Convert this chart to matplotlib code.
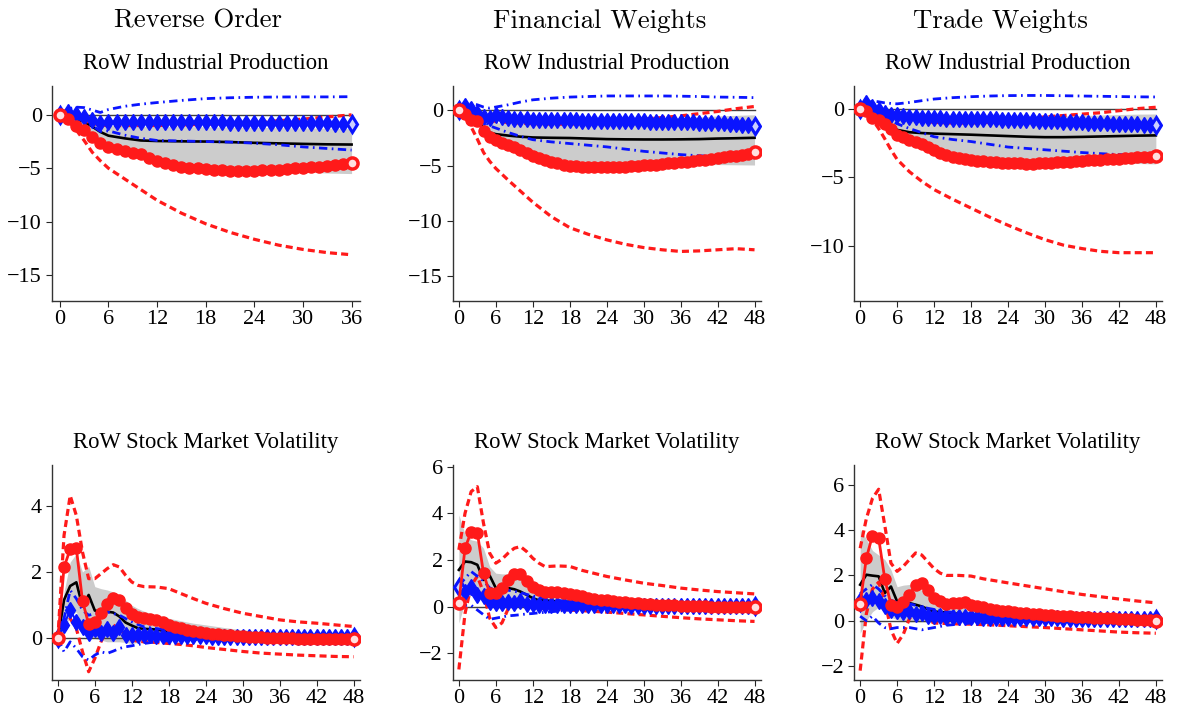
import numpy as np
import matplotlib
matplotlib.use("Agg")
import matplotlib.pyplot as plt

plt.rcParams['font.family'] = ['Liberation Serif', 'DejaVu Serif']

# ---- labels ----
col_titles = ["Reverse Order", "Financial Weights", "Trade Weights"]
row_titles = ["RoW Industrial Production", "RoW Stock Market Volatility"]

# ---- horizons ----
h36 = [0, 1, 2, 3, 4, 5, 6, 8, 10, 12, 15, 18, 21, 24, 27, 30, 33, 36]
h48 = [0, 1, 2, 3, 4, 5, 6, 8, 10, 12, 15, 18, 21, 24, 27, 30, 33, 36, 39, 42, 45, 48]
hvol = [0, 1, 2, 3, 4, 5, 6, 7, 8, 9, 10, 11, 12, 13, 14, 16, 18, 20, 22, 24, 27, 30, 33, 36, 39, 42, 45, 48]

# ================= Reverse Order: industrial production =================
ro_ip_med = [0, -0.1, -0.4, -0.65, -1.1, -1.6, -1.95, -2.2, -2.4, -2.45, -2.48, -2.5, -2.55, -2.62, -2.67, -2.72, -2.76, -2.78]
ro_ip_hi = [0, -0.05, -0.2, -0.45, -0.8, -0.95, -1.0, -1.05, -1.1, -1.1, -1.1, -1.12, -1.15, -1.18, -1.2, -1.22, -1.25, -1.3]
ro_ip_lo = [0, -0.2, -0.6, -1.1, -1.8, -2.3, -2.8, -3.4, -3.9, -4.3, -4.55, -4.75, -4.95, -5.1, -5.25, -5.35, -5.45, -5.5]
ro_ip_red = [0, -0.4, -1.0, -1.4, -2.1, -2.6, -3.0, -3.2, -3.4, -3.55,
             -3.7, -4.05, -4.3, -4.5, -4.7, -4.85, -4.95, -5.0, -5.1, -5.15,
             -5.2, -5.22, -5.25, -5.25, -5.22, -5.2, -5.15, -5.12, -5.08, -5.02,
             -4.97, -4.9, -4.85, -4.78, -4.7, -4.6, -4.5]
ro_ip_red_hi = [0, -0.1, -0.3, -0.55, -0.8, -0.95, -1.0, -1.0, -1.0, -1.0, -0.95, -0.9, -0.8, -0.7, -0.55, -0.4, -0.2, 0.0]
ro_ip_red_lo = [0, -0.5, -1.4, -2.4, -3.5, -4.3, -5.0, -6.0, -7.0, -8.0, -9.2, -10.2, -11.0, -11.65, -12.2, -12.6, -12.9, -13.1]
ro_ip_blue = [0, 0.3, 0.1, -0.2, -0.5, -0.8, -0.7, -0.65, -0.65, -0.65,
              -0.65, -0.65, -0.65, -0.66, -0.67, -0.68, -0.68, -0.69, -0.7, -0.7,
              -0.71, -0.72, -0.72, -0.73, -0.74, -0.74, -0.75, -0.76, -0.77, -0.77,
              -0.78, -0.79, -0.8, -0.81, -0.82, -0.83, -0.85]
ro_ip_blue_hi = [0, 0.55, 0.72, 0.68, 0.45, 0.22, 0.5, 0.8, 1.0, 1.15, 1.35, 1.52, 1.6, 1.65, 1.67, 1.68, 1.68, 1.7]
ro_ip_blue_lo = [0, -0.05, -0.3, -0.6, -1.0, -1.55, -1.5, -1.9, -2.2, -2.4, -2.45, -2.5, -2.55, -2.65, -2.8, -3.0, -3.15, -3.3]

# ================= Financial Weights: industrial production =================
fw_ip_med = [0, -0.05, -0.1, -0.6, -1.65, -2.0, -2.15, -2.28, -2.38, -2.45, -2.48, -2.5, -2.55, -2.6, -2.62, -2.63, -2.63, -2.62, -2.6, -2.55, -2.52, -2.48]
fw_ip_hi = [0, -0.05, -0.15, -0.35, -0.7, -0.95, -1.1, -1.2, -1.2, -1.2, -1.15, -1.1, -1.05, -1.0, -0.9, -0.85, -0.8, -0.7, -0.6, -0.5, -0.45, -0.4]
fw_ip_lo = [0, -0.1, -0.3, -0.9, -2.0, -2.5, -2.8, -3.3, -3.7, -4.0, -4.3, -4.5, -4.65, -4.8, -4.85, -4.9, -4.9, -4.9, -4.9, -4.9, -4.92, -4.94]
fw_ip_red = [0, -0.3, -0.85, -1.0, -1.85, -2.4, -2.7, -2.95, -3.1, -3.3,
             -3.55, -3.85, -4.1, -4.3, -4.5, -4.65, -4.8, -4.9, -5.0, -5.05,
             -5.1, -5.15, -5.15, -5.15, -5.15, -5.15, -5.12, -5.1, -5.05, -5.0,
             -4.95, -4.92, -4.9, -4.85, -4.8, -4.75, -4.7, -4.65, -4.58, -4.5,
             -4.45, -4.38, -4.3, -4.22, -4.15, -4.08, -4.0, -3.9, -3.8]
fw_ip_red_hi = [0, -0.1, -0.3, -0.5, -0.75, -0.9, -1.0, -1.1, -1.15, -1.2, -1.25, -1.25, -1.15, -1.0, -0.9, -0.8, -0.65, -0.5, -0.3, -0.1, 0.15, 0.35]
fw_ip_red_lo = [0, -0.6, -1.5, -2.6, -3.8, -4.6, -5.25, -6.3, -7.3, -8.3, -9.6, -10.6, -11.2, -11.7, -12.1, -12.4, -12.6, -12.75, -12.7, -12.6, -12.5, -12.6]
fw_ip_blue = [0, 0.35, 0.1, -0.2, -0.6, -0.66, -0.45, -0.6, -0.7, -0.75,
              -0.8, -0.82, -0.84, -0.85, -0.86, -0.87, -0.88, -0.89, -0.9, -0.91,
              -0.92, -0.93, -0.94, -0.95, -0.96, -0.97, -0.97, -0.98, -0.99, -0.99,
              -1.0, -1.01, -1.02, -1.03, -1.04, -1.05, -1.06, -1.07, -1.08, -1.1,
              -1.12, -1.13, -1.15, -1.18, -1.21, -1.24, -1.28, -1.33, -1.38]
fw_ip_blue_hi = [0, 0.4, 0.6, 0.5, 0.3, 0.2, 0.3, 0.5, 0.75, 0.95, 1.1, 1.2, 1.25, 1.3, 1.3, 1.3, 1.3, 1.28, 1.25, 1.2, 1.18, 1.15]
fw_ip_blue_lo = [0, -0.05, -0.2, -0.5, -0.9, -1.4, -1.6, -2.0, -2.35, -2.65, -2.85, -3.0, -3.15, -3.3, -3.5, -3.7, -3.85, -4.0, -4.1, -4.2, -4.25, -4.3]

# ================= Trade Weights: industrial production =================
tw_ip_med = [0, -0.02, -0.1, -0.35, -0.75, -1.2, -1.55, -1.72, -1.78, -1.82, -1.86, -1.9, -1.95, -2.0, -2.05, -2.08, -2.08, -2.06, -2.03, -2.0, -1.97, -1.95]
tw_ip_hi = [0, -0.02, -0.1, -0.25, -0.45, -0.6, -0.7, -0.75, -0.8, -0.8, -0.78, -0.75, -0.72, -0.7, -0.65, -0.6, -0.55, -0.5, -0.47, -0.43, -0.4, -0.39]
tw_ip_lo = [0, -0.1, -0.3, -0.7, -1.2, -1.6, -2.0, -2.4, -2.7, -2.9, -3.2, -3.45, -3.65, -3.8, -3.85, -3.9, -3.92, -3.95, -3.97, -4.0, -4.0, -4.03]
tw_ip_red = [0, -0.2, -0.7, -0.8, -1.15, -1.5, -1.9, -2.1, -2.25, -2.4,
             -2.6, -2.8, -3.0, -3.2, -3.35, -3.5, -3.6, -3.68, -3.75, -3.8,
             -3.85, -3.88, -3.9, -3.93, -3.95, -3.97, -3.98, -4.0, -4.0, -3.98,
             -3.96, -3.94, -3.92, -3.9, -3.87, -3.84, -3.8, -3.77, -3.74, -3.71,
             -3.68, -3.66, -3.64, -3.61, -3.58, -3.55, -3.52, -3.49, -3.46]
tw_ip_red_hi = [0, -0.1, -0.25, -0.4, -0.5, -0.55, -0.6, -0.75, -0.9, -1.0, -1.05, -1.05, -1.0, -0.9, -0.75, -0.6, -0.5, -0.4, -0.3, -0.15, 0.0, 0.1]
tw_ip_red_lo = [0, -0.3, -0.8, -1.45, -2.2, -3.0, -3.7, -4.6, -5.3, -5.9, -6.6, -7.25, -7.9, -8.5, -9.05, -9.55, -9.95, -10.2, -10.4, -10.5, -10.5, -10.5]
tw_ip_blue = [0, 0.4, 0.1, -0.1, -0.3, -0.45, -0.5, -0.55, -0.6, -0.63,
              -0.66, -0.68, -0.7, -0.71, -0.72, -0.73, -0.74, -0.74, -0.75, -0.76,
              -0.77, -0.78, -0.79, -0.8, -0.8, -0.81, -0.82, -0.84, -0.86, -0.88,
              -0.9, -0.91, -0.93, -0.95, -0.97, -0.99, -1.0, -1.02, -1.04, -1.06,
              -1.08, -1.09, -1.1, -1.12, -1.13, -1.15, -1.16, -1.17, -1.18]
tw_ip_blue_hi = [0, 0.4, 0.55, 0.5, 0.42, 0.38, 0.35, 0.45, 0.58, 0.7, 0.8, 0.87, 0.92, 0.95, 0.96, 0.96, 0.94, 0.92, 0.9, 0.88, 0.86, 0.85]
tw_ip_blue_lo = [0, -0.05, -0.15, -0.4, -0.65, -0.9, -1.1, -1.45, -1.75, -2.05, -2.25, -2.4, -2.6, -2.8, -2.9, -3.0, -3.1, -3.2, -3.28, -3.35, -3.38, -3.4]

# ================= Reverse Order: stock market volatility =================
ro_vol_med = [0, 1.16, 1.58, 1.69, 0.96, 1.31, 0.84, 0.81, 0.81, 0.78, 0.66, 0.48, 0.39, 0.31, 0.29, 0.27, 0.2, 0.13, 0.09, 0.06, 0.04, 0.02, 0.01, 0.01, 0.0, 0.0, 0.0, 0.0]
ro_vol_hi = [0, 1.4, 2.3, 2.55, 2.0, 2.17, 1.56, 1.5, 1.46, 1.4, 1.3, 1.15, 1.0, 0.9, 0.82, 0.7, 0.61, 0.53, 0.46, 0.41, 0.33, 0.26, 0.21, 0.18, 0.15, 0.12, 0.1, 0.08]
ro_vol_lo = [0, 0.2, 0.7, 0.8, 0.3, 0.1, 0.0, -0.05, -0.1, -0.1, -0.1, -0.12, -0.15, -0.12, -0.1, -0.08, -0.05, -0.04, -0.03, -0.02, -0.01, 0, 0, 0, 0, 0, 0, 0]
ro_vol_red = [0, 2.14, 2.69, 2.72, 1.13, 0.43, 0.51, 0.78, 1.03, 1.23,
              1.16, 0.91, 0.74, 0.66, 0.63, 0.6, 0.57, 0.5, 0.41, 0.36,
              0.31, 0.27, 0.23, 0.2, 0.18, 0.15, 0.13, 0.1, 0.09, 0.07,
              0.06, 0.05, 0.04, 0.03, 0.02, 0.02, 0.01, 0.0, 0.0, -0.01,
              -0.01, -0.01, -0.02, -0.02, -0.02, -0.02, -0.03, -0.03, -0.03]
ro_vol_red_hi = [0, 3.1, 4.3, 3.7, 2.6, 1.8, 1.8, 1.95, 2.1, 2.22, 2.15, 1.9, 1.7, 1.6, 1.56, 1.55, 1.5, 1.35, 1.2, 1.06, 0.9, 0.76, 0.66, 0.56, 0.5, 0.46, 0.41, 0.36]
ro_vol_red_lo = [0, 0.3, 0.6, 0.3, -0.4, -1.0, -0.6, -0.1, 0.3, 0.4, 0.3, 0.1, -0.05, -0.08, -0.1, -0.12, -0.15, -0.18, -0.22, -0.27, -0.33, -0.39, -0.44, -0.47, -0.5, -0.52, -0.54, -0.55]
ro_vol_blue = [0, 0.41, 0.86, 0.51, 0.36, 0.16, 0.28, 0.18, 0.28, 0.18,
               0.34, 0.12, 0.1, 0.1, 0.09, 0.09, 0.08, 0.08, 0.07, 0.07,
               0.07, 0.06, 0.06, 0.06, 0.06, 0.05, 0.05, 0.05, 0.05, 0.05,
               0.05, 0.04, 0.04, 0.04, 0.04, 0.04, 0.04, 0.04, 0.04, 0.04,
               0.03, 0.03, 0.03, 0.03, 0.03, 0.03, 0.03, 0.03, 0.03]
ro_vol_blue_hi = [0, 0.6, 1.45, 1.2, 0.85, 0.7, 0.75, 0.78, 0.8, 0.75, 0.7, 0.6, 0.5, 0.42, 0.35, 0.3, 0.25, 0.2, 0.16, 0.12, 0.09, 0.06, 0.05, 0.04, 0.03, 0.03, 0.03, 0.03]
ro_vol_blue_lo = [0, -0.4, -0.1, -0.3, -0.55, -0.65, -0.5, -0.4, -0.45, -0.38, -0.3, -0.25, -0.22, -0.18, -0.15, -0.1, -0.06, -0.04, -0.03, -0.02, -0.01, -0.01, 0, 0, 0, 0, 0, 0]

# ================= Financial Weights: stock market volatility =================
fw_vol_med = [1.57, 1.93, 1.9, 1.79, 1.14, 1.33, 0.79, 0.79, 0.79, 0.74, 0.64, 0.5, 0.36, 0.26, 0.26, 0.22, 0.2, 0.15, 0.11, 0.08, 0.05, 0.03, 0.02, 0.01, 0.01, 0.0, 0.0, 0.0]
fw_vol_hi = [3.93, 3.1, 2.86, 2.8, 2.5, 1.71, 1.43, 1.4, 1.4, 1.3, 1.2, 1.08, 0.95, 0.87, 0.8, 0.7, 0.6, 0.52, 0.45, 0.4, 0.32, 0.25, 0.2, 0.15, 0.13, 0.12, 0.11, 0.1]
fw_vol_lo = [-0.71, 0.2, 0.5, 0.7, 0.4, 0.25, 0.1, 0.05, 0.0, -0.03, -0.05, -0.05, -0.05, -0.05, -0.04, -0.04, -0.03, -0.03, -0.02, -0.02, -0.01, -0.01, 0, 0, 0, 0, 0, 0]
fw_vol_red = [0.17, 2.5, 3.21, 3.17, 1.43, 0.57, 0.57, 0.79, 1.14, 1.4,
              1.4, 1.1, 0.83, 0.69, 0.61, 0.61, 0.64, 0.6, 0.54, 0.48,
              0.43, 0.38, 0.33, 0.29, 0.26, 0.23, 0.21, 0.19, 0.16, 0.13,
              0.11, 0.1, 0.08, 0.07, 0.06, 0.05, 0.04, 0.03, 0.02, 0.01,
              0.01, 0.0, 0.0, -0.01, -0.01, -0.02, -0.02, -0.03, -0.03]
fw_vol_red_hi = [2.43, 4.0, 4.93, 5.14, 3.57, 2.29, 1.86, 2.03, 2.29, 2.5, 2.57, 2.36, 2.07, 1.86, 1.71, 1.74, 1.72, 1.55, 1.42, 1.29, 1.14, 1.0, 0.9, 0.79, 0.71, 0.64, 0.59, 0.54]
fw_vol_red_lo = [-2.7, -0.3, 0.9, 1.3, 0.6, -0.5, -0.9, -0.7, -0.1, 0.3, 0.35, 0.15, -0.05, -0.08, -0.1, -0.12, -0.15, -0.18, -0.21, -0.24, -0.3, -0.36, -0.42, -0.48, -0.53, -0.57, -0.61, -0.64]
fw_vol_blue = [0.83, 0.64, 0.83, 0.5, 0.43, 0.21, 0.17, 0.17, 0.2, 0.14,
               0.24, 0.1, 0.09, 0.08, 0.08, 0.07, 0.07, 0.07, 0.06, 0.06,
               0.06, 0.06, 0.05, 0.05, 0.05, 0.05, 0.05, 0.05, 0.04, 0.04,
               0.04, 0.04, 0.04, 0.04, 0.04, 0.04, 0.04, 0.04, 0.04, 0.04,
               0.04, 0.04, 0.04, 0.04, 0.04, 0.04, 0.04, 0.04, 0.04]
fw_vol_blue_hi = [0.9, 1.2, 1.5, 1.3, 1.1, 0.8, 0.7, 0.7, 0.7, 0.65, 0.6, 0.52, 0.45, 0.4, 0.35, 0.27, 0.2, 0.16, 0.13, 0.1, 0.07, 0.05, 0.04, 0.03, 0.03, 0.03, 0.03, 0.03]
fw_vol_blue_lo = [0.0, 0.05, 0.05, -0.15, -0.35, -0.55, -0.5, -0.45, -0.4, -0.38, -0.35, -0.32, -0.3, -0.27, -0.25, -0.2, -0.15, -0.1, -0.07, -0.05, -0.03, -0.02, -0.01, 0, 0, 0, 0, 0]

# ================= Trade Weights: stock market volatility =================
tw_vol_med = [1.59, 2.03, 1.99, 1.96, 1.22, 1.51, 0.85, 0.81, 0.78, 0.71, 0.63, 0.51, 0.41, 0.38, 0.37, 0.3, 0.25, 0.2, 0.17, 0.14, 0.11, 0.08, 0.06, 0.04, 0.03, 0.02, 0.01, 0.01]
tw_vol_hi = [4.04, 3.6, 3.1, 2.9, 2.7, 2.25, 1.5, 1.57, 1.6, 1.5, 1.35, 1.2, 1.05, 0.97, 0.9, 0.8, 0.7, 0.62, 0.52, 0.45, 0.37, 0.3, 0.25, 0.2, 0.17, 0.14, 0.12, 0.1]
tw_vol_lo = [-0.55, 0.0, 0.4, 0.6, 0.4, 0.15, 0.05, 0.0, -0.05, -0.05, -0.05, -0.05, -0.05, -0.04, -0.04, -0.03, -0.03, -0.02, -0.02, -0.01, -0.01, 0, 0, 0, 0, 0, 0, 0]
tw_vol_red = [0.75, 2.76, 3.76, 3.65, 1.84, 0.71, 0.59, 0.81, 1.15, 1.59,
              1.66, 1.37, 1.0, 0.85, 0.74, 0.78, 0.79, 0.81, 0.71, 0.65,
              0.59, 0.54, 0.49, 0.45, 0.41, 0.39, 0.36, 0.34, 0.31, 0.29,
              0.27, 0.25, 0.23, 0.21, 0.19, 0.18, 0.16, 0.15, 0.14, 0.12,
              0.11, 0.1, 0.09, 0.07, 0.06, 0.05, 0.04, 0.02, 0.01]
tw_vol_red_hi = [3.2, 4.5, 5.4, 5.8, 4.2, 2.54, 2.18, 2.4, 2.7, 2.99, 2.9, 2.6, 2.3, 2.1, 2.0, 2.0, 1.97, 1.85, 1.76, 1.67, 1.54, 1.41, 1.28, 1.16, 1.06, 0.96, 0.87, 0.79]
tw_vol_red_lo = [-2.2, 0.3, 1.4, 1.7, 0.9, -0.4, -1.0, -0.6, 0.1, 0.4, 0.3, 0.05, -0.1, -0.11, -0.12, -0.14, -0.15, -0.17, -0.19, -0.22, -0.26, -0.3, -0.35, -0.4, -0.45, -0.5, -0.53, -0.55]
tw_vol_blue = [0.81, 0.9, 1.0, 0.85, 0.63, 0.49, 0.41, 0.37, 0.41, 0.31,
               0.34, 0.22, 0.2, 0.19, 0.18, 0.17, 0.17, 0.16, 0.15, 0.15,
               0.14, 0.14, 0.13, 0.13, 0.12, 0.12, 0.12, 0.11, 0.11, 0.11,
               0.1, 0.1, 0.1, 0.09, 0.09, 0.09, 0.08, 0.08, 0.08, 0.08,
               0.08, 0.07, 0.07, 0.07, 0.07, 0.07, 0.07, 0.07, 0.07]
tw_vol_blue_hi = [1.2, 1.4, 1.6, 1.4, 1.1, 0.9, 0.8, 0.78, 0.75, 0.68, 0.6, 0.55, 0.5, 0.45, 0.4, 0.35, 0.3, 0.26, 0.23, 0.2, 0.17, 0.15, 0.13, 0.12, 0.11, 0.1, 0.1, 0.1]
tw_vol_blue_lo = [0.2, 0.0, 0.2, -0.1, -0.3, -0.35, -0.3, -0.3, -0.3, -0.35, -0.4, -0.35, -0.3, -0.25, -0.2, -0.15, -0.1, -0.08, -0.06, -0.05, -0.03, -0.02, -0.01, 0, 0, 0, 0, 0]

# panel setup: (horizon knots, N, series..., ylim, yticks)
panels = [
    [(h36, 36, ro_ip_med, ro_ip_hi, ro_ip_lo, ro_ip_red, ro_ip_red_hi, ro_ip_red_lo,
      ro_ip_blue, ro_ip_blue_hi, ro_ip_blue_lo, (-17.4, 2.7), [-15, -10, -5, 0]),
     (h48, 48, fw_ip_med, fw_ip_hi, fw_ip_lo, fw_ip_red, fw_ip_red_hi, fw_ip_red_lo,
      fw_ip_blue, fw_ip_blue_hi, fw_ip_blue_lo, (-17.2, 2.2), [-15, -10, -5, 0]),
     (h48, 48, tw_ip_med, tw_ip_hi, tw_ip_lo, tw_ip_red, tw_ip_red_hi, tw_ip_red_lo,
      tw_ip_blue, tw_ip_blue_hi, tw_ip_blue_lo, (-14.0, 1.65), [-10, -5, 0])],
    [(hvol, 48, ro_vol_med, ro_vol_hi, ro_vol_lo, ro_vol_red, ro_vol_red_hi, ro_vol_red_lo,
      ro_vol_blue, ro_vol_blue_hi, ro_vol_blue_lo, (-1.24, 5.22), [0, 2, 4]),
     (hvol, 48, fw_vol_med, fw_vol_hi, fw_vol_lo, fw_vol_red, fw_vol_red_hi, fw_vol_red_lo,
      fw_vol_blue, fw_vol_blue_hi, fw_vol_blue_lo, (-3.14, 6.07), [-2, 0, 2, 4, 6]),
     (hvol, 48, tw_vol_med, tw_vol_hi, tw_vol_lo, tw_vol_red, tw_vol_red_hi, tw_vol_red_lo,
      tw_vol_blue, tw_vol_blue_hi, tw_vol_blue_lo, (-2.6, 6.87), [-2, 0, 2, 4, 6])],
]

W, H = 1178, 715
fig = plt.figure(figsize=(W / 100, H / 100), dpi=100)

col_left = [51.7, 452.7, 854]
row_top = [86, 465]
ax_w, ax_h = 308, 214.7

RED = '#ff1a1a'
BLUE = '#0a14ff'


def draw_panel(ax, p, title):
    knots, N, med, hi, lo, red, red_hi, red_lo, blue, blue_hi, blue_lo, ylim, yticks = p
    full = np.arange(N + 1)
    ax.fill_between(knots, lo, hi, color='#cccccc', lw=0, zorder=1)
    ax.plot([0, N], [0, 0], color='0.25', lw=1.0, zorder=2)
    ax.plot(knots, med, color='k', lw=1.9, zorder=3)
    ax.plot(knots, red_hi, color=RED, lw=2.3, dashes=(2.2, 1.3), zorder=4)
    ax.plot(knots, red_lo, color=RED, lw=2.3, dashes=(2.2, 1.3), zorder=4)
    ax.plot(knots, blue_hi, color=BLUE, lw=2.0, dashes=(3.0, 1.6, 0.6, 1.6), zorder=4)
    ax.plot(knots, blue_lo, color=BLUE, lw=2.0, dashes=(3.0, 1.6, 0.6, 1.6), zorder=4)
    ax.plot(full, blue, color=BLUE, lw=1.5, marker='d', ms=8.5, mfc=BLUE,
            mec=BLUE, markevery=list(range(1, N)), zorder=5)
    ax.plot(full[[0, -1]], np.array(blue)[[0, -1]], ls='none', marker='d', ms=8.5,
            mfc='#ccd0ff', mec=BLUE, mew=2.2, zorder=5)
    ax.plot(full, red, color=RED, lw=2.0, marker='o', ms=8, mfc=RED,
            mec=RED, markevery=list(range(1, N)), zorder=6)
    ax.plot(full[[0, -1]], np.array(red)[[0, -1]], ls='none', marker='o', ms=8,
            mfc='#ffe0e0', mec=RED, mew=2.5, zorder=6)

    ax.set_xlim(-1, N + 1)
    ax.set_ylim(*ylim)
    ax.set_xticks(range(0, N + 1, 6))
    ax.set_yticks(yticks)
    ax.tick_params(labelsize=16, direction='out', length=4, width=0.8, colors='0.15',
                   labelcolor='black', pad=3)
    for s in ['top', 'right']:
        ax.spines[s].set_visible(False)
    for s in ['left', 'bottom']:
        ax.spines[s].set_color('0.2')
        ax.spines[s].set_linewidth(1.0)
    ax.set_title(title, fontsize=16.3, pad=12)


for r in range(2):
    for c in range(3):
        ax = fig.add_axes([col_left[c] / W, 1 - (row_top[r] + ax_h) / H, ax_w / W, ax_h / H])
        draw_panel(ax, panels[r][c], row_titles[r])

for c in range(3):
    cx = (col_left[c] + ax_w / 2 - 7.5) / W
    fig.text(cx, 1 - 28 / H, col_titles[c], ha='center', va='baseline',
             fontsize=19.3, family='cmr10')

fig.savefig('out.png', dpi=100)
